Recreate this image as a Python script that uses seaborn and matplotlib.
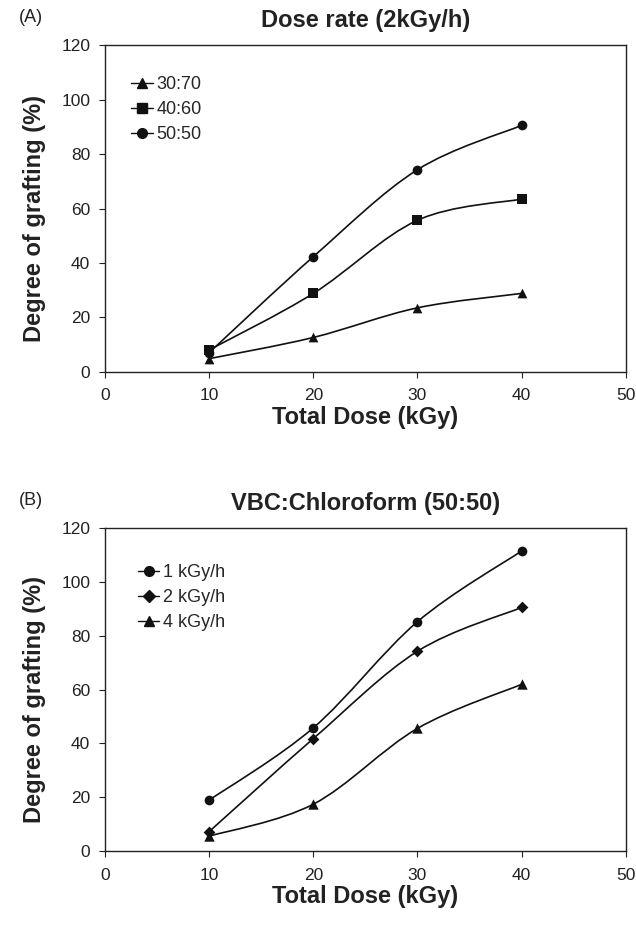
import numpy as np
import matplotlib
matplotlib.use('Agg')
import matplotlib.pyplot as plt
from matplotlib.path import Path
from matplotlib.patches import PathPatch
from matplotlib.lines import Line2D
import seaborn as sns

# data
dose = [10, 20, 30, 40]

ratio_labels = ['30:70', '40:60', '50:50']
ratio_30_70 = [4.8, 12.6, 23.5, 28.8]
ratio_40_60 = [8.0, 28.8, 55.7, 63.5]
ratio_50_50 = [7.0, 42.3, 74.3, 90.6]

rate_labels = ['1 kGy/h', '2 kGy/h', '4 kGy/h']
rate_1 = [18.9, 45.8, 85.3, 111.6]
rate_2 = [7.2, 41.8, 74.3, 90.6]
rate_4 = [5.5, 17.4, 45.6, 62.0]

sns.set_style('ticks')
plt.rcParams['font.family'] = ['Liberation Sans', 'DejaVu Sans']


def smooth_curve(ax, x, y):
    # Catmull-Rom style spline drawn as cubic bezier segments
    p = np.column_stack([x, y]).astype(float)
    ext = np.vstack([p[0], p, p[-1]])
    verts = [tuple(p[0])]
    codes = [Path.MOVETO]
    for i in range(1, len(ext) - 2):
        c1 = ext[i] + (ext[i + 1] - ext[i - 1]) / 6
        c2 = ext[i + 1] - (ext[i + 2] - ext[i]) / 6
        verts += [tuple(c1), tuple(c2), tuple(ext[i + 1])]
        codes += [Path.CURVE4] * 3
    ax.add_patch(PathPatch(Path(verts, codes), fill=False, edgecolor='#111111',
                           lw=1.2, zorder=2))


def panel(ax, series, labels, markers, sizes, title, tag, leg_anchor):
    handles = []
    for vals, lab, m, ms in zip(series, labels, markers, sizes):
        smooth_curve(ax, dose, vals)
        sns.scatterplot(x=dose, y=vals, marker=m, color='#111111', s=ms ** 2,
                        edgecolor='#111111', linewidth=0, ax=ax, zorder=3)
        handles.append(Line2D([], [], color='#111111', lw=1.0, marker=m,
                              markersize=ms, label=lab))
    ax.set_xlim(0, 50)
    ax.set_ylim(0, 120)
    ax.set_xticks(range(0, 51, 10))
    ax.set_yticks(range(0, 121, 20))
    ax.tick_params(labelsize=12.5, length=4, width=0.8, colors='#222222')
    ax.tick_params(axis='x', pad=8)
    ax.tick_params(axis='y', pad=6.5)
    for s in ax.spines.values():
        s.set_linewidth(1.0)
        s.set_color('#222222')
    ax.set_xlabel('Total Dose (kGy)', fontsize=17, fontweight='bold', labelpad=2,
                  color='#222222')
    ax.set_ylabel('Degree of grafting (%)', fontsize=17, fontweight='bold', labelpad=11,
                  color='#222222', y=0.47)
    ax.set_title(title, fontsize=17, fontweight='bold', pad=13, color='#222222')
    ax.text(-0.165, 1.085, tag, transform=ax.transAxes, fontsize=13, va='center',
            color='#222222')
    ax.legend(handles=handles, loc='upper left', bbox_to_anchor=leg_anchor,
              frameon=False, fontsize=13, handlelength=1.2, handletextpad=0.2,
              labelspacing=0.45, borderaxespad=0, borderpad=0)


fig = plt.figure(figsize=(6.36, 9.27), dpi=100)
ax1 = fig.add_axes([0.165, 0.599, 0.819, 0.352])
ax2 = fig.add_axes([0.165, 0.082, 0.819, 0.348])

panel(ax1, [ratio_30_70, ratio_40_60, ratio_50_50], ratio_labels,
      ['^', 's', 'o'], [7, 7, 7], 'Dose rate (2kGy/h)', '(A)', (0.05, 0.906))
panel(ax2, [rate_1, rate_2, rate_4], rate_labels,
      ['o', 'D', '^'], [7, 6, 7.5], 'VBC:Chloroform (50:50)', '(B)', (0.063, 0.889))

fig.savefig('out.png', dpi=100)
